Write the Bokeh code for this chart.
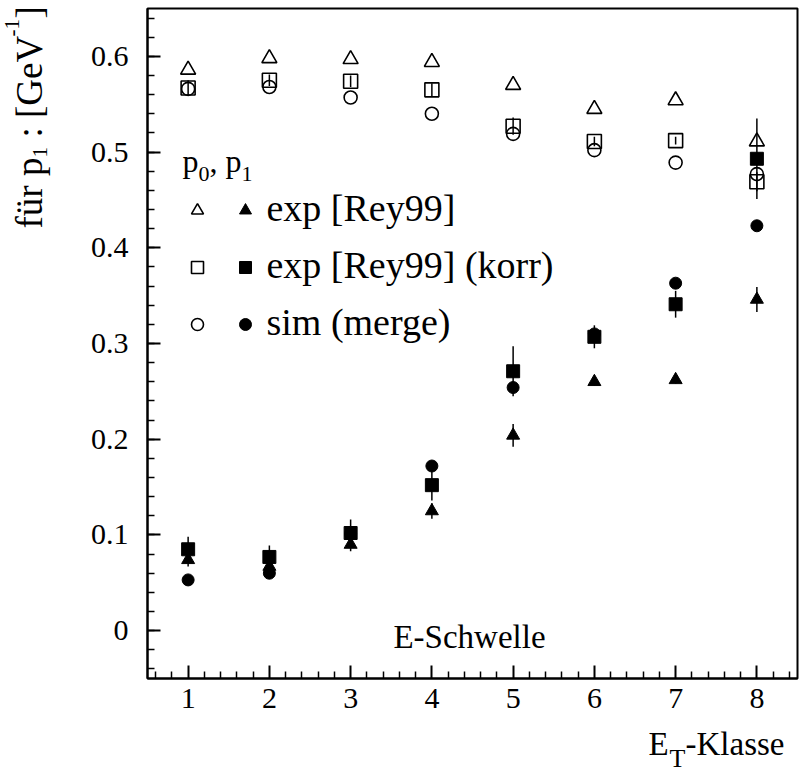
import numpy as np
from bokeh.plotting import figure
from bokeh.layouts import row, column
from bokeh.models import Label, Legend, LegendItem, FixedTicker
from bokeh.embed import file_html
from bokeh.resources import INLINE

# ---------------- data ----------------
classes = [1, 2, 3, 4, 5, 6, 7, 8]

# p0 (open markers)
p0_exp = [0.586, 0.598, 0.597, 0.594, 0.570, 0.545, 0.554, 0.511]
p0_exp_korr = [0.567, 0.575, 0.574, 0.565, 0.527, 0.511, 0.512, 0.469]
p0_exp_korr_err = [0.008, 0.006, 0.006, 0.007, 0.009, 0.005, 0.004, 0.010]
p0_sim = [0.566, 0.568, 0.557, 0.540, 0.519, 0.502, 0.489, 0.477]

# p1 (filled markers)
p1_exp = [0.074, 0.067, 0.090, 0.125, 0.204, 0.260, 0.262, 0.346]
p1_exp_err = [0.007, 0.006, 0.007, 0.008, 0.012, 0.004, 0.004, 0.013]
p1_exp_korr = [0.085, 0.077, 0.102, 0.152, 0.271, 0.307, 0.341, 0.493]
p1_exp_korr_err = [0.013, 0.012, 0.014, 0.016, 0.026, 0.012, 0.014, 0.042]
p1_sim = [0.053, 0.060, 0.101, 0.172, 0.254, 0.310, 0.363, 0.423]

x_ticks = [1, 2, 3, 4, 5, 6, 7, 8]
y_ticks = [0, 0.1, 0.2, 0.3, 0.4, 0.5, 0.6]
y_tick_labels = ["0", "0.1", "0.2", "0.3", "0.4", "0.5", "0.6"]

legend_labels = ["exp [Rey99]", "exp [Rey99] (korr)", "sim (merge)"]

FONT = "Liberation Serif"

YL_W = 70      # width of the strip holding the y title
XL_H = 54      # height of the strip holding the x title
MAIN_W = 799 - YL_W
MAIN_H = 775 - XL_H

# ---------------- main figure ----------------
p = figure(width=MAIN_W, height=MAIN_H, x_range=(0.5, 8.5), y_range=(-0.05, 0.65),
           output_backend="svg", toolbar_location=None,
           min_border_left=147 - YL_W, min_border_right=2, min_border_top=8,
           min_border_bottom=MAIN_H - 678)
p.background_fill_color = "white"
p.border_fill_color = "white"
p.xgrid.visible = False
p.ygrid.visible = False
p.outline_line_color = "black"
p.outline_line_width = 2
p.outline_line_alpha = 1

x_minor = [round(v, 2) for v in np.arange(0.6, 8.45, 0.2) if abs(v - round(v)) > 1e-6]
y_minor = [round(v, 3) for v in np.arange(-0.04, 0.645, 0.02)]
p.xaxis.ticker = FixedTicker(ticks=x_ticks, minor_ticks=x_minor)
p.yaxis.ticker = FixedTicker(ticks=y_ticks, minor_ticks=y_minor)
p.yaxis.major_label_overrides = dict(zip(y_ticks, y_tick_labels))

for ax in (p.xaxis[0], p.yaxis[0]):
    ax.axis_line_width = 2
    ax.major_tick_in = 13
    ax.major_tick_out = 0
    ax.minor_tick_in = 7
    ax.minor_tick_out = 0
    ax.major_tick_line_width = 2
    ax.minor_tick_line_width = 1.5
    ax.major_label_text_font = FONT
    ax.major_label_text_font_size = "30px"
    ax.major_label_text_color = "black"
p.yaxis.major_label_standoff = 19
p.xaxis.major_label_standoff = 10

# ---------------- error bars ----------------
def bars(y, e):
    y = np.array(y)
    e = np.array(e)
    p.segment(x0=classes, y0=y - e, x1=classes, y1=y + e,
              line_color="black", line_width=1.5)

bars(p0_exp_korr, p0_exp_korr_err)
bars(p1_exp, p1_exp_err)
bars(p1_exp_korr, p1_exp_korr_err)

# ---------------- markers ----------------
r_sim_o = p.scatter(classes, p0_sim, marker="circle", size=13, fill_color=None,
                    line_color="black", line_width=1.6)
r_korr_o = p.scatter(classes, p0_exp_korr, marker="square", size=14, fill_color=None,
                     line_color="black", line_width=1.6)
r_exp_o = p.scatter(classes, p0_exp, marker="triangle", size=15, fill_color=None,
                    line_color="black", line_width=1.6)

r_exp_f = p.scatter(classes, p1_exp, marker="triangle", size=13, fill_color="black",
                    line_color="black", line_width=1)
r_korr_f = p.scatter(classes, p1_exp_korr, marker="square", size=13, fill_color="black",
                     line_color="black", line_width=1)
r_sim_f = p.scatter(classes, p1_sim, marker="circle", size=12, fill_color="black",
                    line_color="black", line_width=1)

# ---------------- legend glyphs ----------------
common = dict(orientation="vertical", glyph_width=30, glyph_height=46, label_height=46,
              spacing=11, padding=0, margin=0, border_line_color=None,
              background_fill_alpha=0, label_text_font=FONT,
              label_text_font_size="38px", label_text_color="black", label_standoff=0)
legA = Legend(items=[LegendItem(label=" ", renderers=[r]) for r in (r_exp_o, r_korr_o, r_sim_o)],
              location=(35, 331), **common)
legB = Legend(items=[LegendItem(label=" ", renderers=[r]) for r in (r_exp_f, r_korr_f, r_sim_f)],
              location=(83, 331), **common)
p.add_layout(legA)
p.add_layout(legB)

# ---------------- texts ----------------
K = 0.36   # baseline correction observed for this renderer (fraction of font size)

def lab(fig, x, y, text, size, align="left"):
    """Horizontal text whose alphabetic baseline sits at screen y."""
    fig.add_layout(Label(x=x, y=y + K * size, x_units="screen", y_units="screen",
                         text=text, text_font=FONT, text_font_size=f"{size}px",
                         text_color="black", text_baseline="alphabetic",
                         text_align=align))

def vlab(fig, xb, y, text, size):
    """Vertical (upward) text: baseline at screen x = xb, starting at screen y."""
    fig.add_layout(Label(x=xb - 0.8 * size - 9 * size / 37, y=y - 38,
                         x_units="screen", y_units="screen",
                         text=text, text_font=FONT, text_font_size=f"{size}px",
                         text_color="black", text_baseline="top",
                         text_align="left", angle=np.pi / 2))

# legend texts
for t, yb in zip(legend_labels, (457, 400, 343)):
    lab(p, 119, yb, t, 38)

# p0, p1
lab(p, 35, 506, "p", 32)
lab(p, 51, 497, "0", 22)
lab(p, 62, 506, ", p", 32)
lab(p, 94, 497, "1", 22)

# E-Schwelle
lab(p, 322, 30, "E-Schwelle", 33, align="center")

# ---------------- title strips ----------------
def strip(w, h):
    f = figure(width=w, height=h, x_range=(0, 1), y_range=(0, 1),
               output_backend="svg", toolbar_location=None,
               x_axis_type=None, y_axis_type=None, min_border=0)
    f.outline_line_color = None
    f.xgrid.visible = False
    f.ygrid.visible = False
    f.background_fill_color = "white"
    f.border_fill_color = "white"
    return f

# y title: für p_1 : [GeV^-1]
yl = strip(YL_W, MAIN_H)
base = MAIN_H - 233
vlab(yl, 47, base, "für p", 37)
vlab(yl, 54, base + 71, "1", 21)
vlab(yl, 47, base + 91, ": [GeV", 37)
vlab(yl, 26, base + 192, "-1", 21)
vlab(yl, 47, base + 210, "]", 37)

# x title: E_T-Klasse  (baseline at page y = 755)
xl = strip(799, XL_H)
lab(xl, 648, XL_H - 34, "E", 33)
lab(xl, 669, XL_H - 46, "T", 26)
lab(xl, 685, XL_H - 34, "-Klasse", 33)

layout = column(row(yl, p, spacing=0), xl, spacing=0)

open("out.html", "w").write(file_html(layout, INLINE))
